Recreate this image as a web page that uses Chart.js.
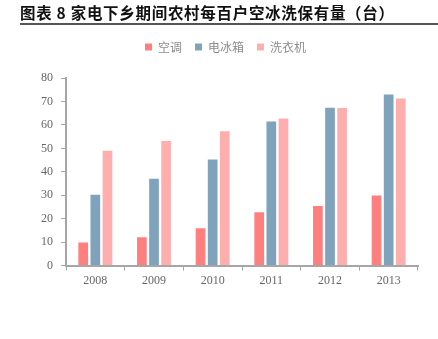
<!DOCTYPE html>
<html>
<head>
<meta charset="utf-8">
<script src="https://cdn.jsdelivr.net/npm/chart.js@4.4.0/dist/chart.umd.min.js"></script>
<style>
  html, body { margin: 0; padding: 0; background: #fff; }
  #wrap { position: relative; width: 438px; height: 339px; }
  #title {
    position: absolute; left: 20px; top: 2px; width: 418px;
    font-family: "Noto Sans CJK SC", sans-serif; font-weight: bold;
    font-size: 15.5px; color: #111; letter-spacing: 0.7px;
    line-height: 20px; padding-bottom: 1px;
    border-bottom: 2px solid #555;
  }
  canvas { position: absolute; left: 0; top: 0; }
</style>
</head>
<body>
<div id="wrap">
  <canvas id="c" width="438" height="339"></canvas>
  <div id="title">图表 8 家电下乡期间农村每百户空冰洗保有量（台）</div>
</div>
<script>
// 农村每百户耐用消费品保有量（台）
const years = ['2008', '2009', '2010', '2011', '2012', '2013'];
const airConditioner = [9.8, 12.1, 15.9, 22.7, 25.4, 29.9];
const refrigerator = [30.2, 37.0, 45.2, 61.5, 67.3, 73.0];
const washingMachine = [49.0, 53.1, 57.3, 62.7, 67.2, 71.3];
const seriesNames = ['空调', '电冰箱', '洗衣机'];
const seriesColors = ['#FF7F7F', '#7FA3BD', '#FFAEAE'];

const axisGrey = '#A6A6A6';
const tickFont = { family: '"Liberation Serif", "Times New Roman", serif', size: 12 };

// extra space between the legend and the plot area
const legendGap = {
  id: 'legendGap',
  beforeInit(chart) {
    const fit = chart.legend.fit;
    chart.legend.fit = function () {
      fit.call(this);
      this.height += 15;
    };
  }
};

new Chart(document.getElementById('c'), {
  type: 'bar',
  data: {
    labels: years,
    datasets: [airConditioner, refrigerator, washingMachine].map((vals, i) => ({
      label: seriesNames[i],
      data: vals,
      backgroundColor: seriesColors[i],
      borderWidth: 0,
      categoryPercentage: 0.62,
      barPercentage: 0.8
    }))
  },
  options: {
    responsive: false,
    animation: false,
    layout: { padding: { top: 28, left: 33, right: 20, bottom: 48 } },
    plugins: {
      tooltip: { enabled: false },
      legend: {
        position: 'top',
        labels: {
          boxWidth: 7, boxHeight: 7, padding: 13,
          color: '#8C8C8C',
          font: { family: '"Noto Sans CJK SC", sans-serif', size: 12 }
        }
      }
    },
    scales: {
      x: {
        grid: { display: true, drawOnChartArea: false, offset: true, color: axisGrey, tickLength: 5 },
        border: { display: true, color: axisGrey, width: 2 },
        ticks: { color: '#666', font: tickFont, padding: 3 }
      },
      y: {
        min: 0, max: 80,
        grid: { display: true, drawOnChartArea: false, color: axisGrey, tickLength: 5 },
        border: { display: true, color: axisGrey, width: 2 },
        ticks: { stepSize: 10, color: '#666', font: tickFont, padding: 8 }
      }
    }
  },
  plugins: [legendGap]
});
</script>
</body>
</html>
